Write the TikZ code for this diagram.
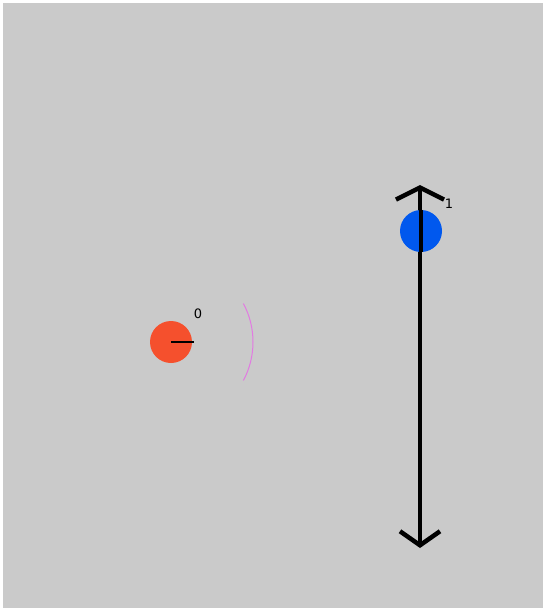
\documentclass[tikz,border=0pt]{standalone}
\usepackage{fontspec}
\setmainfont{DejaVu Sans}
\usepackage{xcolor}
\usepackage{tikz}
\usetikzlibrary{calc,positioning,arrows.meta}
\definecolor{bggray}{HTML}{CACACA}
\definecolor{ballred}{HTML}{F5502D}
\definecolor{ballblue}{HTML}{0058EE}
\definecolor{wavepink}{HTML}{E27AE2}

\begin{document}
\begin{tikzpicture}[x=1pt, y=-1pt]
  % Canvas
  \fill[white] (0,0) rectangle (543,611);
  \fill[bggray] (3,3) rectangle (543,608);
  
  % Left: red ball with its heading and wave front
  \node[circle, fill=ballred, minimum size=42pt, inner sep=0pt] (redball) at (171,342) {};
  \draw[line width=1.5pt, black] (redball.center) -- ([xshift=23pt]redball.center);
  \node[font=\fontsize{13}{15}\selectfont, anchor=center] (redlabel) at (198,314) {0};
  \draw[wavepink, line width=1pt] ([shift={(-28:82pt)}]redball.center) arc[start angle=-28, end angle=28, radius=82pt];
  
  % Right: double arrow with blue ball
  \coordinate (armtop) at (420,185);
  \coordinate (armbottom) at (420,548);
  \draw[{Straight Barb[length=12pt, width=48pt, line width=4.5pt]}-{Straight Barb[length=14pt, width=40pt, line width=4.5pt]}, line width=4pt, black] (armtop) -- (armbottom);
  \node[circle, fill=ballblue, minimum size=42pt, inner sep=0pt] (blueball) at (421,231) {};
  \draw[line width=4pt, black] (blueball.north) -- (blueball.south);
  \node[font=\fontsize{13}{15}\selectfont, anchor=center] (bluelabel) at (449,204) {1};
\end{tikzpicture}
\end{document}
